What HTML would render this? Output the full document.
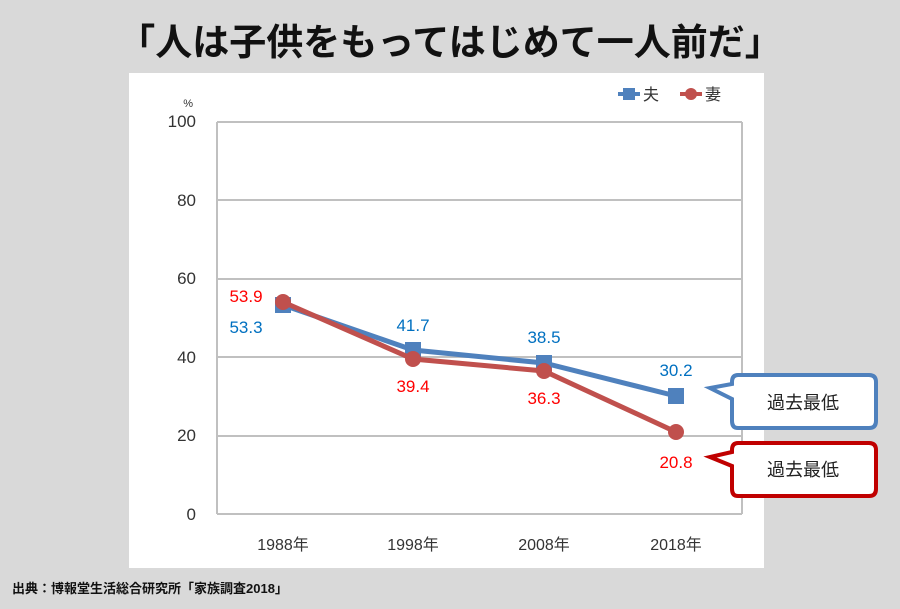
<!DOCTYPE html>
<html><head><meta charset="utf-8"><style>
html,body{margin:0;padding:0;background:#d9d9d9;}
svg{display:block;font-family:"Liberation Sans","Noto Sans CJK JP",sans-serif;}
</style></head><body>
<svg width="900" height="609" viewBox="0 0 900 609">
<rect width="900" height="609" fill="#d9d9d9"/>
<text x="450" y="55" text-anchor="middle" font-size="37" font-weight="bold" fill="#111" font-family="'Noto Sans CJK JP',sans-serif">「人は子供をもってはじめて一人前だ」</text>
<rect x="129" y="73" width="635" height="495" fill="#fff"/>
<g stroke="#c0c0c0" stroke-width="2" fill="none">
<line x1="217" y1="122" x2="742" y2="122"/>
<line x1="217" y1="200" x2="742" y2="200"/>
<line x1="217" y1="279" x2="742" y2="279"/>
<line x1="217" y1="357" x2="742" y2="357"/>
<line x1="217" y1="436" x2="742" y2="436"/>
<line x1="217" y1="514" x2="742" y2="514"/>
<line x1="217" y1="122" x2="217" y2="514"/>
<line x1="742" y1="122" x2="742" y2="514"/>
</g>
<g font-size="17" fill="#333" text-anchor="end">
<text x="196" y="127">100</text><text x="196" y="206">80</text><text x="196" y="284">60</text>
<text x="196" y="363">40</text><text x="196" y="441">20</text><text x="196" y="520">0</text>
</g>
<text x="193" y="107" font-size="11" fill="#333" text-anchor="end">%</text>
<g font-size="16" fill="#333" text-anchor="middle">
<text x="283" y="550">1988年</text><text x="413" y="550">1998年</text><text x="544" y="550">2008年</text><text x="676" y="550">2018年</text>
</g>
<polyline points="283,305 413,350 544,363 676,396" fill="none" stroke="#4f81bd" stroke-width="5"/>
<g fill="#4f81bd"><rect x="275" y="297" width="16" height="16"/><rect x="405" y="342" width="16" height="16"/><rect x="536" y="355" width="16" height="16"/><rect x="668" y="388" width="16" height="16"/></g>
<polyline points="283,302 413,359 544,371 676,432" fill="none" stroke="#c0504d" stroke-width="5"/>
<g fill="#c0504d"><circle cx="283" cy="302" r="8"/><circle cx="413" cy="359" r="8"/><circle cx="544" cy="371" r="8"/><circle cx="676" cy="432" r="8"/></g>
<g font-size="17" text-anchor="middle">
<text x="246" y="302" fill="#ff0000">53.9</text>
<text x="246" y="333" fill="#0070c0">53.3</text>
<text x="413" y="331" fill="#0070c0">41.7</text>
<text x="413" y="392" fill="#ff0000">39.4</text>
<text x="544" y="343" fill="#0070c0">38.5</text>
<text x="544" y="404" fill="#ff0000">36.3</text>
<text x="676" y="376" fill="#0070c0">30.2</text>
<text x="676" y="468" fill="#ff0000">20.8</text>
</g>
<line x1="618" y1="94" x2="640" y2="94" stroke="#4f81bd" stroke-width="4"/><rect x="623" y="88" width="12" height="12" fill="#4f81bd"/>
<text x="643" y="100" font-size="16" fill="#333">夫</text>
<line x1="680" y1="94" x2="702" y2="94" stroke="#c0504d" stroke-width="4"/><circle cx="691" cy="94" r="6" fill="#c0504d"/>
<text x="705" y="100" font-size="16" fill="#333">妻</text>
<path d="M738,375 H869 Q876,375 876,382 V421 Q876,428 869,428 H738 Q732,428 732,421 V399 L710,388 L732,384 V382 Q732,375 738,375 Z" fill="#fff" stroke="#4f81bd" stroke-width="4"/>
<text x="803" y="409" font-size="18" fill="#222" text-anchor="middle">過去最低</text>
<path d="M738,443 H869 Q876,443 876,450 V489 Q876,496 869,496 H738 Q732,496 732,489 V466 L710,457 L732,452 V450 Q732,443 738,443 Z" fill="#fff" stroke="#c00000" stroke-width="4"/>
<text x="803" y="476" font-size="18" fill="#222" text-anchor="middle">過去最低</text>
<text x="12" y="593" font-size="13" font-weight="bold" fill="#111">出典：博報堂生活総合研究所「家族調査2018」</text>
</svg>
</body></html>
